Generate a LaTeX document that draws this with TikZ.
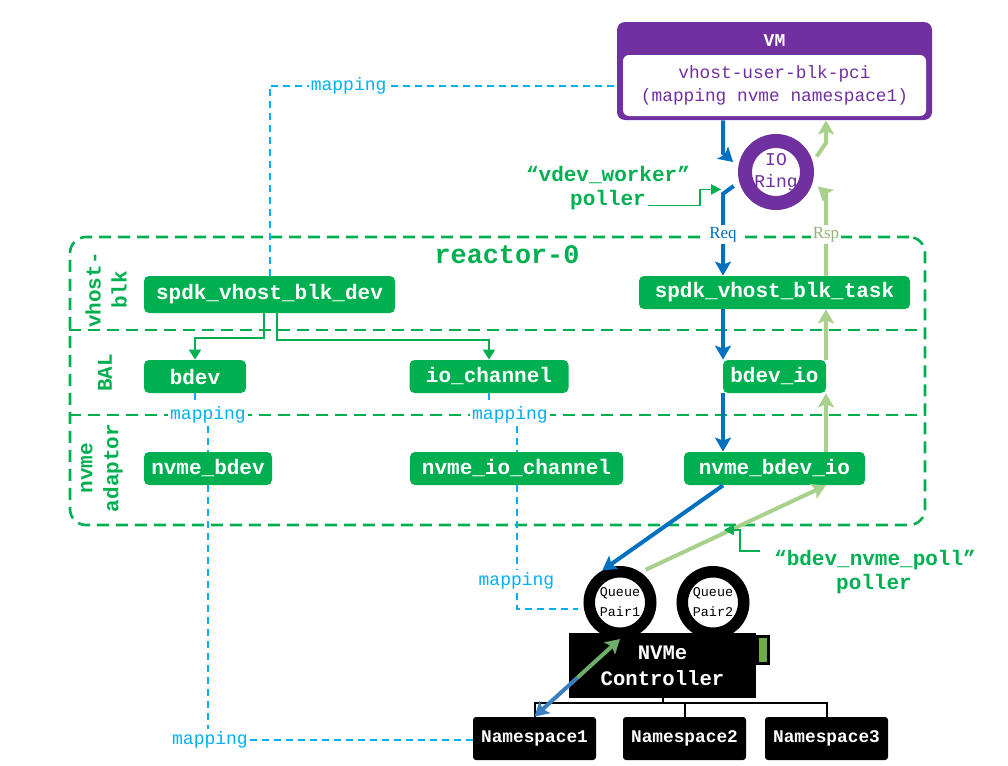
\documentclass[tikz,border=0pt]{standalone}
\usepackage{fontspec}
\setmainfont{Liberation Serif}
\setmonofont{Liberation Mono}
\usetikzlibrary{positioning,arrows.meta,calc}
\definecolor{blkgreen}{HTML}{00B050}
\definecolor{reqblue}{HTML}{0070C0}
\definecolor{rspgreen}{HTML}{A9D18E}
\definecolor{vmpurple}{HTML}{7030A0}
\definecolor{mapblue}{HTML}{00B0F0}
\definecolor{ledgreen}{HTML}{70AD47}
\definecolor{nsblue}{HTML}{3A7FBF}
\definecolor{qpgreen}{HTML}{6DAE6B}
\tikzset{
  blk/.style={rectangle,rounded corners=2.5pt,fill=blkgreen,text=white,inner sep=0pt,
    minimum height=16.5pt,font=\ttfamily\bfseries\fontsize{10.5}{12}\selectfont},
  nsbox/.style={rectangle,rounded corners=1.5pt,fill=black,text=white,inner sep=0pt,
    minimum width=61.5pt,minimum height=21.5pt,font=\ttfamily\bfseries\fontsize{8.9}{10}\selectfont},
  qpair/.style={circle,draw=black,line width=5.75pt,fill=white,minimum size=30.75pt,inner sep=0pt,
    align=center,font=\ttfamily\fontsize{6.7}{10}\selectfont},
  maplbl/.style={fill=white,text=mapblue,inner sep=1pt,font=\ttfamily\fontsize{9}{10}\selectfont},
  map/.style={draw=mapblue,line width=1pt,dash pattern=on 3.5pt off 2.5pt},
  req/.style={draw=reqblue,line width=2pt,-{Stealth[length=7pt,width=8pt,inset=1.5pt]}},
  rsp/.style={draw=rspgreen,line width=2pt,-{Stealth[length=7pt,width=8pt,inset=1.5pt]}},
  poll/.style={draw=blkgreen,line width=0.8pt,-{Triangle[length=5pt,width=5pt]}},
  polltxt/.style={text=blkgreen,inner sep=1pt,font=\ttfamily\bfseries\fontsize{10.5}{12}\selectfont},
}

\begin{document}
\begin{tikzpicture}[x=0.5pt,y=-0.5pt,
   reactor/.style={draw=blkgreen,line width=1.3pt,dash pattern=on 6pt off 3.5pt,rounded corners=8pt},
   sep/.style={draw=blkgreen,line width=1.3pt,dash pattern=on 6pt off 3.5pt},
   lyr/.style={rotate=90,align=center,text=blkgreen,font=\ttfamily\bfseries\fontsize{10.5}{13}\selectfont},
   tree/.style={draw=blkgreen,line width=1pt,-{Triangle[length=5pt,width=6pt]}},
   reqlbl/.style={fill=white,inner sep=1pt,text=reqblue,font=\fontsize{8.5}{10}\selectfont},
   rsplbl/.style={fill=white,inner sep=1pt,text=rspgreen!85!black,font=\fontsize{8.5}{10}\selectfont}]
  \useasboundingbox (0,0) rectangle (1008,766);
  % reactor frame and layers
  \node[reactor,minimum width=427.5pt,minimum height=144pt,inner sep=0pt] (r0) at (497.5,381) {};
  \draw[sep] (r0.west |- 0,330) -- (r0.east |- 0,330);
  \draw[sep] (r0.west |- 0,415) -- (r0.east |- 0,415);
  \node[text=blkgreen,font=\ttfamily\bfseries\fontsize{13.4}{15}\selectfont] (r0lbl) at (507,255) {reactor-0};
  \node[lyr] (lvb) at (106,290) {vhost-\\blk};
  \node[lyr] (lbal) at (105,373) {BAL};
  \node[lyr] (lnv) at (102,468) {nvme\\adaptor};
  % blocks
  \node[blk,minimum width=125.5pt,minimum height=18.5pt] (sbd) at (269.5,294.5) {spdk\_vhost\_blk\_dev};
  \node[blk,minimum width=135.5pt] (task) at (774.5,292.5) {spdk\_vhost\_blk\_task};
  \node[blk,minimum width=51pt] (bdev) at (195,376.5) {bdev};
  \node[blk,minimum width=79.5pt] (ioch) at (489,376.5) {io\_channel};
  \node[blk,minimum width=51.5pt] (bio) at (774.5,376.5) {bdev\_io};
  \node[blk,minimum width=64pt] (nvb) at (208,468.5) {nvme\_bdev};
  \node[blk,minimum width=106.5pt] (nioc) at (516.5,468.5) {nvme\_io\_channel};
  \node[blk,minimum width=90.5pt] (nbio) at (774.5,468.5) {nvme\_bdev\_io};
  % VM
  \node[rectangle,rounded corners=4pt,fill=vmpurple,minimum width=157.5pt,minimum height=49pt] (vm) at (774.5,71) {};
  \node[rectangle,rounded corners=3pt,fill=white,minimum width=151.5pt,minimum height=30.5pt,align=center,
    text=vmpurple,font=\ttfamily\fontsize{8.9}{11.5}\selectfont] (vmin) at (774.5,85.5)
    {vhost-user-blk-pci\\(mapping nvme namespace1)};
  \node[text=white,font=\ttfamily\bfseries\fontsize{9}{10}\selectfont] (vmlbl) at (774.5,41) {VM};
  \node[circle,draw=vmpurple,line width=7pt,fill=white,minimum size=31pt,inner sep=0pt,align=center,
    text=vmpurple,font=\ttfamily\fontsize{9}{11}\selectfont] (ring) at (776,172) {IO\\Ring};
  % NVMe side
  \node[rectangle,fill=black,minimum width=93.5pt,minimum height=32.5pt,inner sep=0pt,align=center,
    text=white,font=\ttfamily\bfseries\fontsize{10.3}{13}\selectfont] (ctrl) at (662.5,665.5) {NVMe\\Controller};
  \node[rectangle,draw=black,line width=1.5pt,fill=ledgreen,minimum width=5.5pt,minimum height=13.5pt,inner sep=0pt] (led) at (763,650) {};
  \node[qpair] (qp1) at (620,602.5) {Queue\\Pair1};
  \node[qpair] (qp2) at (713,602.5) {Queue\\Pair2};
  \node[nsbox] (ns1) at (534.5,738.5) {Namespace1};
  \node[nsbox] (ns2) at (684.5,738.5) {Namespace2};
  \node[nsbox] (ns3) at (826.5,738.5) {Namespace3};
  \coordinate (nsj) at ($(ctrl.south)+(0,5)$);
  \draw[line width=1pt] (ctrl.south) -- (nsj);
  \foreach \n in {ns1,ns2,ns3}
    \draw[line width=1pt] (nsj) -| (\n.north);
  % request / response path
  \coordinate (reqx) at (723,0);
  \coordinate (rspx) at (826,0);
  \draw[req,shorten >=3.5pt] (vm.south -| reqx) -- (reqx |- ring.150) -- (ring.172);
  \draw[req,shorten <=3.5pt] (ring.195) -- (reqx |- ring.215) -- node[reqlbl] (reql) {Req} (reqx |- task.north);
  \draw[req] (task.south -| reqx) -- (bio.north -| reqx);
  \draw[req] (bio.south -| reqx) -- (nbio.north -| reqx);
  \draw[req,shorten >=2.9pt] (nbio.south -| reqx) -- (qp1.128);
  \draw[rsp,shorten <=2.9pt] (qp1.56) -- (nbio.south -| rspx);
  \draw[rsp] (nbio.north -| rspx) -- (bio.south -| rspx);
  \draw[rsp] (bio.north -| rspx) -- (task.south -| rspx);
  \draw[rsp,shorten >=3.5pt] (task.north -| rspx) -- node[rsplbl] (rspl) {Rsp} (rspx |- ring.-35) -- (ring.-15);
  \draw[rsp,shorten <=3.5pt] (ring.15) -- (rspx |- ring.50) -- (rspx |- vm.south);
  % layer links
  \draw[tree] ([xshift=-3pt]sbd.south) -- ++(0,25) -| (bdev.north);
  \draw[tree] ([xshift=3.5pt]sbd.south) -- ++(0,27) -| (ioch.north);
  % pollers
  \node[polltxt] (vw) at (608,175) {“vdev\_worker”};
  \node[polltxt] (vwp) at (608,200) {poller};
  \draw[poll] (vwp.base east) -- ++(52,0) -- ++(0,-16) -- ++(21,0);
  \node[polltxt] (bnp) at (875,560) {“bdev\_nvme\_poll”};
  \node[polltxt] (bnpp) at (874,584) {poller};
  \draw[poll] ([xshift=-6pt,yshift=4.5pt]bnp.west) -- ++(-20,0) -- ++(0,-21) -- ++(-16,0);
  % mappings
  \draw[map] (sbd.north) |- node[maplbl,pos=0.614] (m1) {mapping} (vm.west |- vmin.west);
  \node[maplbl] (m2) at (208,415) {mapping};
  \draw[map] (bdev.south) -- (bdev.south |- m2.north);
  \draw[map] (m2.south -| nvb.north) -- (nvb.north);
  \node[maplbl] (m3) at (510,415) {mapping};
  \draw[map] (ioch.south) -- (ioch.south |- m3.north);
  \draw[map] (m3.south -| nioc.north) -- (nioc.north);
  \draw[map,shorten >=2.9pt] (nioc.south) |- node[maplbl,pos=0.386] (m4) {mapping} (qp1.190);
  \node[maplbl] (m5) at (210,740) {mapping};
  \draw[map] (nvb.south) -- (nvb.south |- m5.north);
  \draw[map] (m5.east) -- (m5.east -| ns1.west);
  % queue pair to namespace
  \coordinate (qpmid) at ($(qp1.south)!0.5!(ns1.north)$);
  \draw[line width=2pt,draw=qpgreen,-{Stealth[length=7pt,width=8pt,inset=1.5pt]}] (qpmid) -- (qp1.south);
  \draw[line width=2pt,draw=nsblue,-{Stealth[length=7pt,width=8pt,inset=1.5pt]}] (qpmid) -- (ns1.north);
\end{tikzpicture}
\end{document}
